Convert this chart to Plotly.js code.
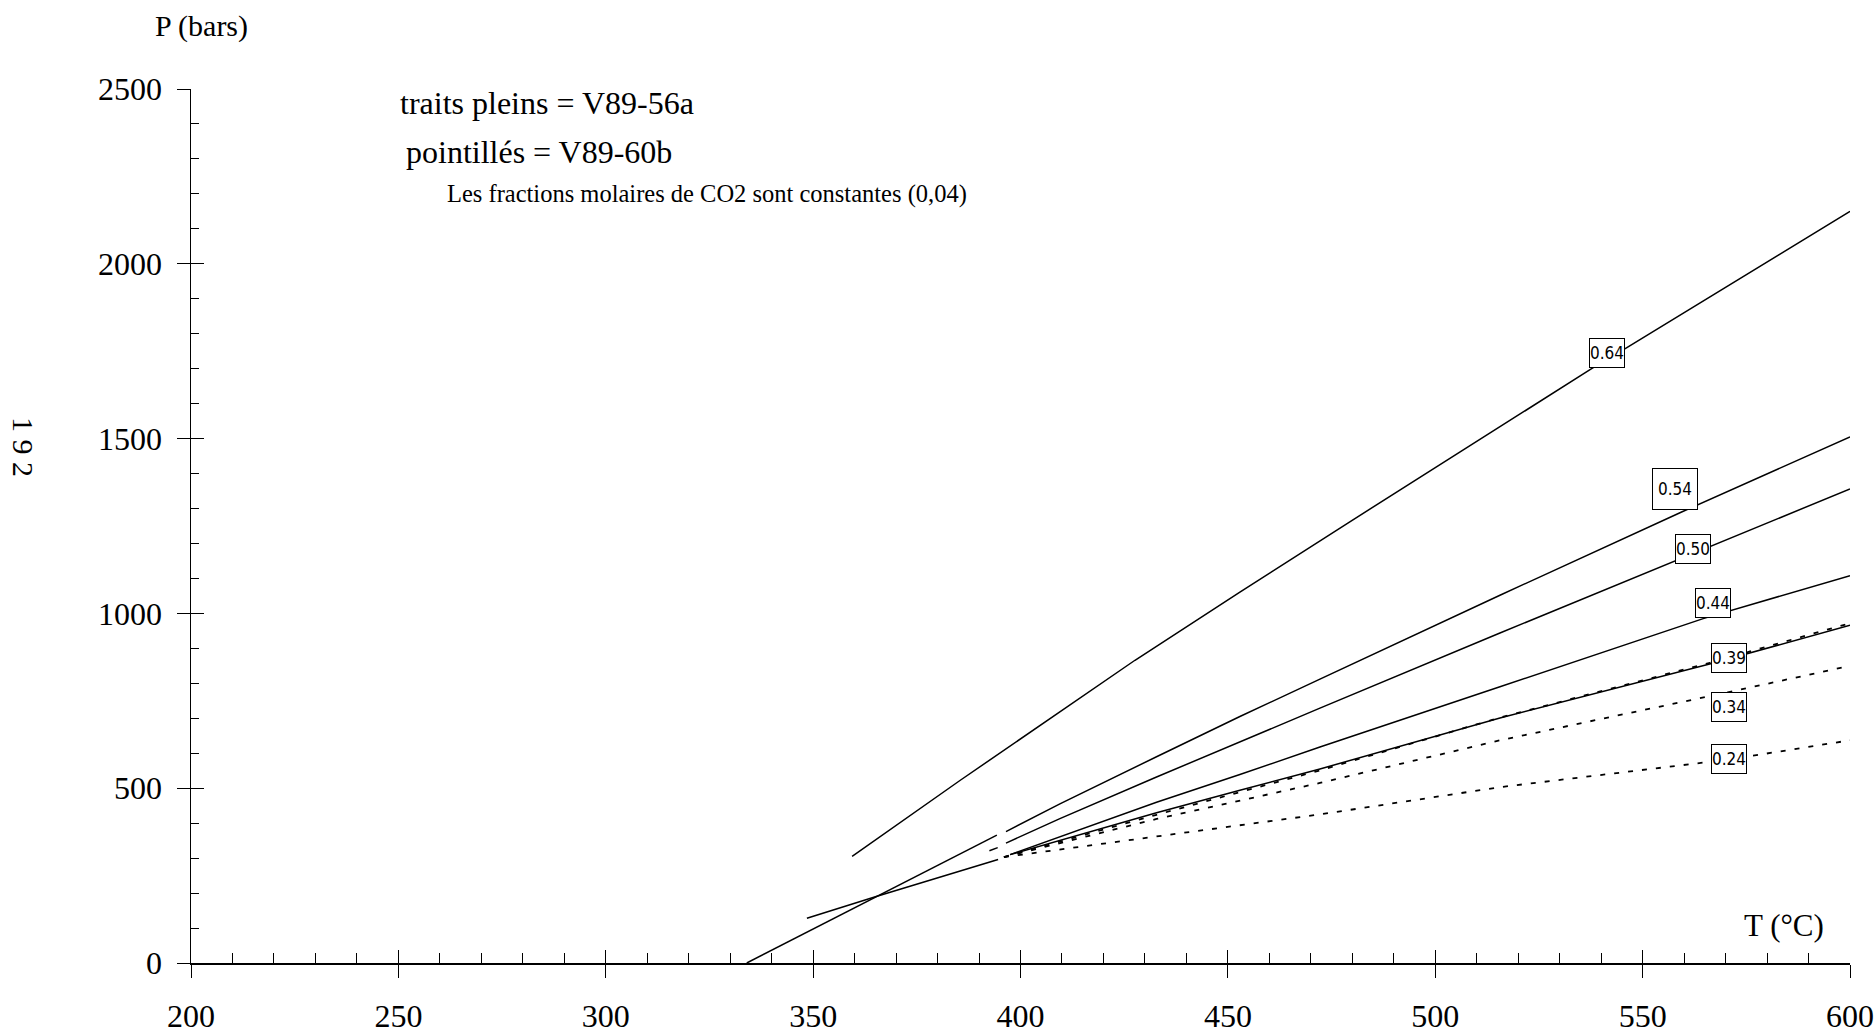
<!DOCTYPE html>
<html>
<head>
<meta charset="utf-8">
<script src="https://cdn.plot.ly/plotly-3.0.1.min.js"></script>
<style>
  html, body { margin: 0; padding: 0; background: #ffffff; }
  #chart { width: 1876px; height: 1035px; }
</style>
</head>
<body>
<div id="chart"></div>
<script>
// ---- Data ----
// Solid lines (traits pleins = V89-56a)
const T_064 = [359.4, 385.4, 427.6, 452.9, 479.4, 515.6, 537.7, 546.2, 600];
const P_064 = [305, 522, 866, 1061, 1262, 1533, 1700, 1760, 2150];

const T_054 = [334, 365.4, 394.3, null, 396.5, 409.5, 432.8, 452.9, 472.2, 515.6, 559.4, 600];
const P_054 = [0, 191, 366, null, 376, 455, 590, 705, 812, 1052, 1290, 1505];

const T_050 = [392.5, 394.5, null, 396.5, 409.5, 432.8, 452.9, 472.2, 515.6, 557.6, 600];
const P_050 = [321, 330, null, 343, 413, 532, 633, 729, 944, 1148, 1356];

const T_044 = [348.5, 365.4, 394.6, null, 397.5, 432.8, 452.9, 472.2, 515.6, 564.6, 600];
const P_044 = [128, 191, 296, null, 310, 460, 539, 618, 790, 985, 1108];

const T_039 = [397.5, 432.8, 452.9, 472.2, 515.6, 566.4, 600];
const P_039 = [310, 430, 494, 555, 701, 856, 966];

// Dotted lines (pointillés = V89-60b)
const T_039d = [396, 432.8, 472.2, 515.6, 566, 600];
const P_039d = [303, 424, 551, 702, 858, 972];

const T_034d = [396, 432.8, 472.2, 515.6, 570.8, 600];
const P_034d = [303, 412, 515, 637, 775, 850];

const T_024d = [396, 432.8, 472.2, 515.6, 570.8, 600];
const P_024d = [303, 362, 425, 503, 582, 637];

// Density labels on the curves
const labelText = ["0.64", "0.54", "0.50", "0.44", "0.39", "0.34", "0.24"];
const labelT    = [541.4, 557.8, 562.1, 567.0, 570.8, 570.8, 570.8];
const labelP    = [1745, 1355, 1183, 1029, 872, 731, 583];

// Axis ticks
const xTicks = [200, 250, 300, 350, 400, 450, 500, 550, 600];
const yTicks = [0, 500, 1000, 1500, 2000, 2500];

// ---- Styles ----
const SERIF = "Liberation Serif, Times New Roman, serif";
const NARROW = "Liberation Sans Narrow, DejaVu Sans Condensed, Liberation Sans, sans-serif";
const solid = {color: "#000", width: 1.5};
const dotted = {color: "#000", width: 1.8, dash: "5px,9px"};

const traces = [
  {x: T_064, y: P_064, mode: "lines", line: solid, connectgaps: false, hoverinfo: "skip"},
  {x: T_054, y: P_054, mode: "lines", line: solid, connectgaps: false, hoverinfo: "skip"},
  {x: T_050, y: P_050, mode: "lines", line: solid, connectgaps: false, hoverinfo: "skip"},
  {x: T_044, y: P_044, mode: "lines", line: solid, connectgaps: false, hoverinfo: "skip"},
  {x: T_039, y: P_039, mode: "lines", line: solid, connectgaps: false, hoverinfo: "skip"},
  {x: T_039d, y: P_039d, mode: "lines", line: dotted, xaxis: "x2", yaxis: "y2", hoverinfo: "skip"},
  {x: T_034d, y: P_034d, mode: "lines", line: dotted, xaxis: "x2", yaxis: "y2", hoverinfo: "skip"},
  {x: T_024d, y: P_024d, mode: "lines", line: dotted, xaxis: "x2", yaxis: "y2", hoverinfo: "skip"}
];

const annotations = labelText.map((t, i) => ({
  x: labelT[i], y: labelP[i], xref: "x", yref: "y",
  text: t, showarrow: false,
  font: {family: NARROW, size: 17, color: "#000"},
  bgcolor: "#fff", bordercolor: "#000", borderwidth: 1,
  width: t === "0.54" ? 44 : 34, height: t === "0.54" ? 40 : 28, borderpad: 0,
  xanchor: "center", yanchor: "middle"
}));

annotations.push(
  {xref: "paper", yref: "paper", x: 0.0066, y: 1.0721, text: "P (bars)", showarrow: false,
   xanchor: "center", yanchor: "middle", font: {family: SERIF, size: 30, color: "#000"}},
  {xref: "paper", yref: "paper", x: 0.9605, y: 0.0429, text: "T (°C)", showarrow: false,
   xanchor: "center", yanchor: "middle", font: {family: SERIF, size: 31, color: "#000"}},
  {xref: "paper", yref: "paper", x: 0.1248, y: 0.984, text: "traits pleins = V89-56a", showarrow: false,
   xanchor: "left", yanchor: "middle", font: {family: SERIF, size: 32, color: "#000"}},
  {xref: "paper", yref: "paper", x: 0.1284, y: 0.9279, text: "pointillés = V89-60b", showarrow: false,
   xanchor: "left", yanchor: "middle", font: {family: SERIF, size: 32, color: "#000"}},
  {xref: "paper", yref: "paper", x: 0.1531, y: 0.8798, text: "Les fractions molaires de CO2 sont constantes (0,04)", showarrow: false,
   xanchor: "left", yanchor: "middle", font: {family: SERIF, size: 24.5, color: "#000"}},
  {xref: "paper", yref: "paper", x: -0.101, y: 0.590, text: "1 9 2", showarrow: false, textangle: 90,
   xanchor: "center", yanchor: "middle", font: {family: SERIF, size: 30, color: "#000"}}
);

const layout = {
  width: 1876, height: 1035,
  paper_bgcolor: "#fff", plot_bgcolor: "#fff",
  showlegend: false,
  margin: {l: 191, r: 26, t: 89, b: 72, pad: 0},
  xaxis: {
    range: [200, 600], tickvals: xTicks, ticktext: xTicks.map(String),
    showline: true, linecolor: "#000", linewidth: 1.5,
    ticks: "outside", ticklen: 13, tickwidth: 1, tickcolor: "#000",
    tickfont: {family: SERIF, size: 32, color: "#000"},
    ticklabelstandoff: 11,
    showgrid: false, zeroline: false, anchor: "y", fixedrange: true
  },
  xaxis2: {
    range: [200, 600], overlaying: "x", anchor: "y", side: "bottom",
    tickvals: xTicks, showticklabels: false, showline: false,
    ticks: "inside", ticklen: 13, tickwidth: 1, tickcolor: "#000",
    minor: {ticks: "inside", dtick: 10, tick0: 200, ticklen: 10, tickwidth: 1, tickcolor: "#000"},
    showgrid: false, zeroline: false, fixedrange: true
  },
  yaxis: {
    range: [0, 2500], tickvals: yTicks, ticktext: yTicks.map(String),
    showline: true, linecolor: "#000", linewidth: 1.5,
    ticks: "outside", ticklen: 13, tickwidth: 1, tickcolor: "#000",
    tickfont: {family: SERIF, size: 32, color: "#000"},
    ticklabelstandoff: 8,
    showgrid: false, zeroline: false, anchor: "x", fixedrange: true
  },
  yaxis2: {
    range: [0, 2500], overlaying: "y", anchor: "x", side: "left",
    tickvals: yTicks, showticklabels: false, showline: false,
    ticks: "inside", ticklen: 13, tickwidth: 1, tickcolor: "#000",
    minor: {ticks: "inside", dtick: 100, tick0: 0, ticklen: 8, tickwidth: 1, tickcolor: "#000"},
    showgrid: false, zeroline: false, fixedrange: true
  },
  annotations: annotations
};

Plotly.newPlot("chart", traces, layout, {displayModeBar: false, staticPlot: true});
</script>
</body>
</html>
